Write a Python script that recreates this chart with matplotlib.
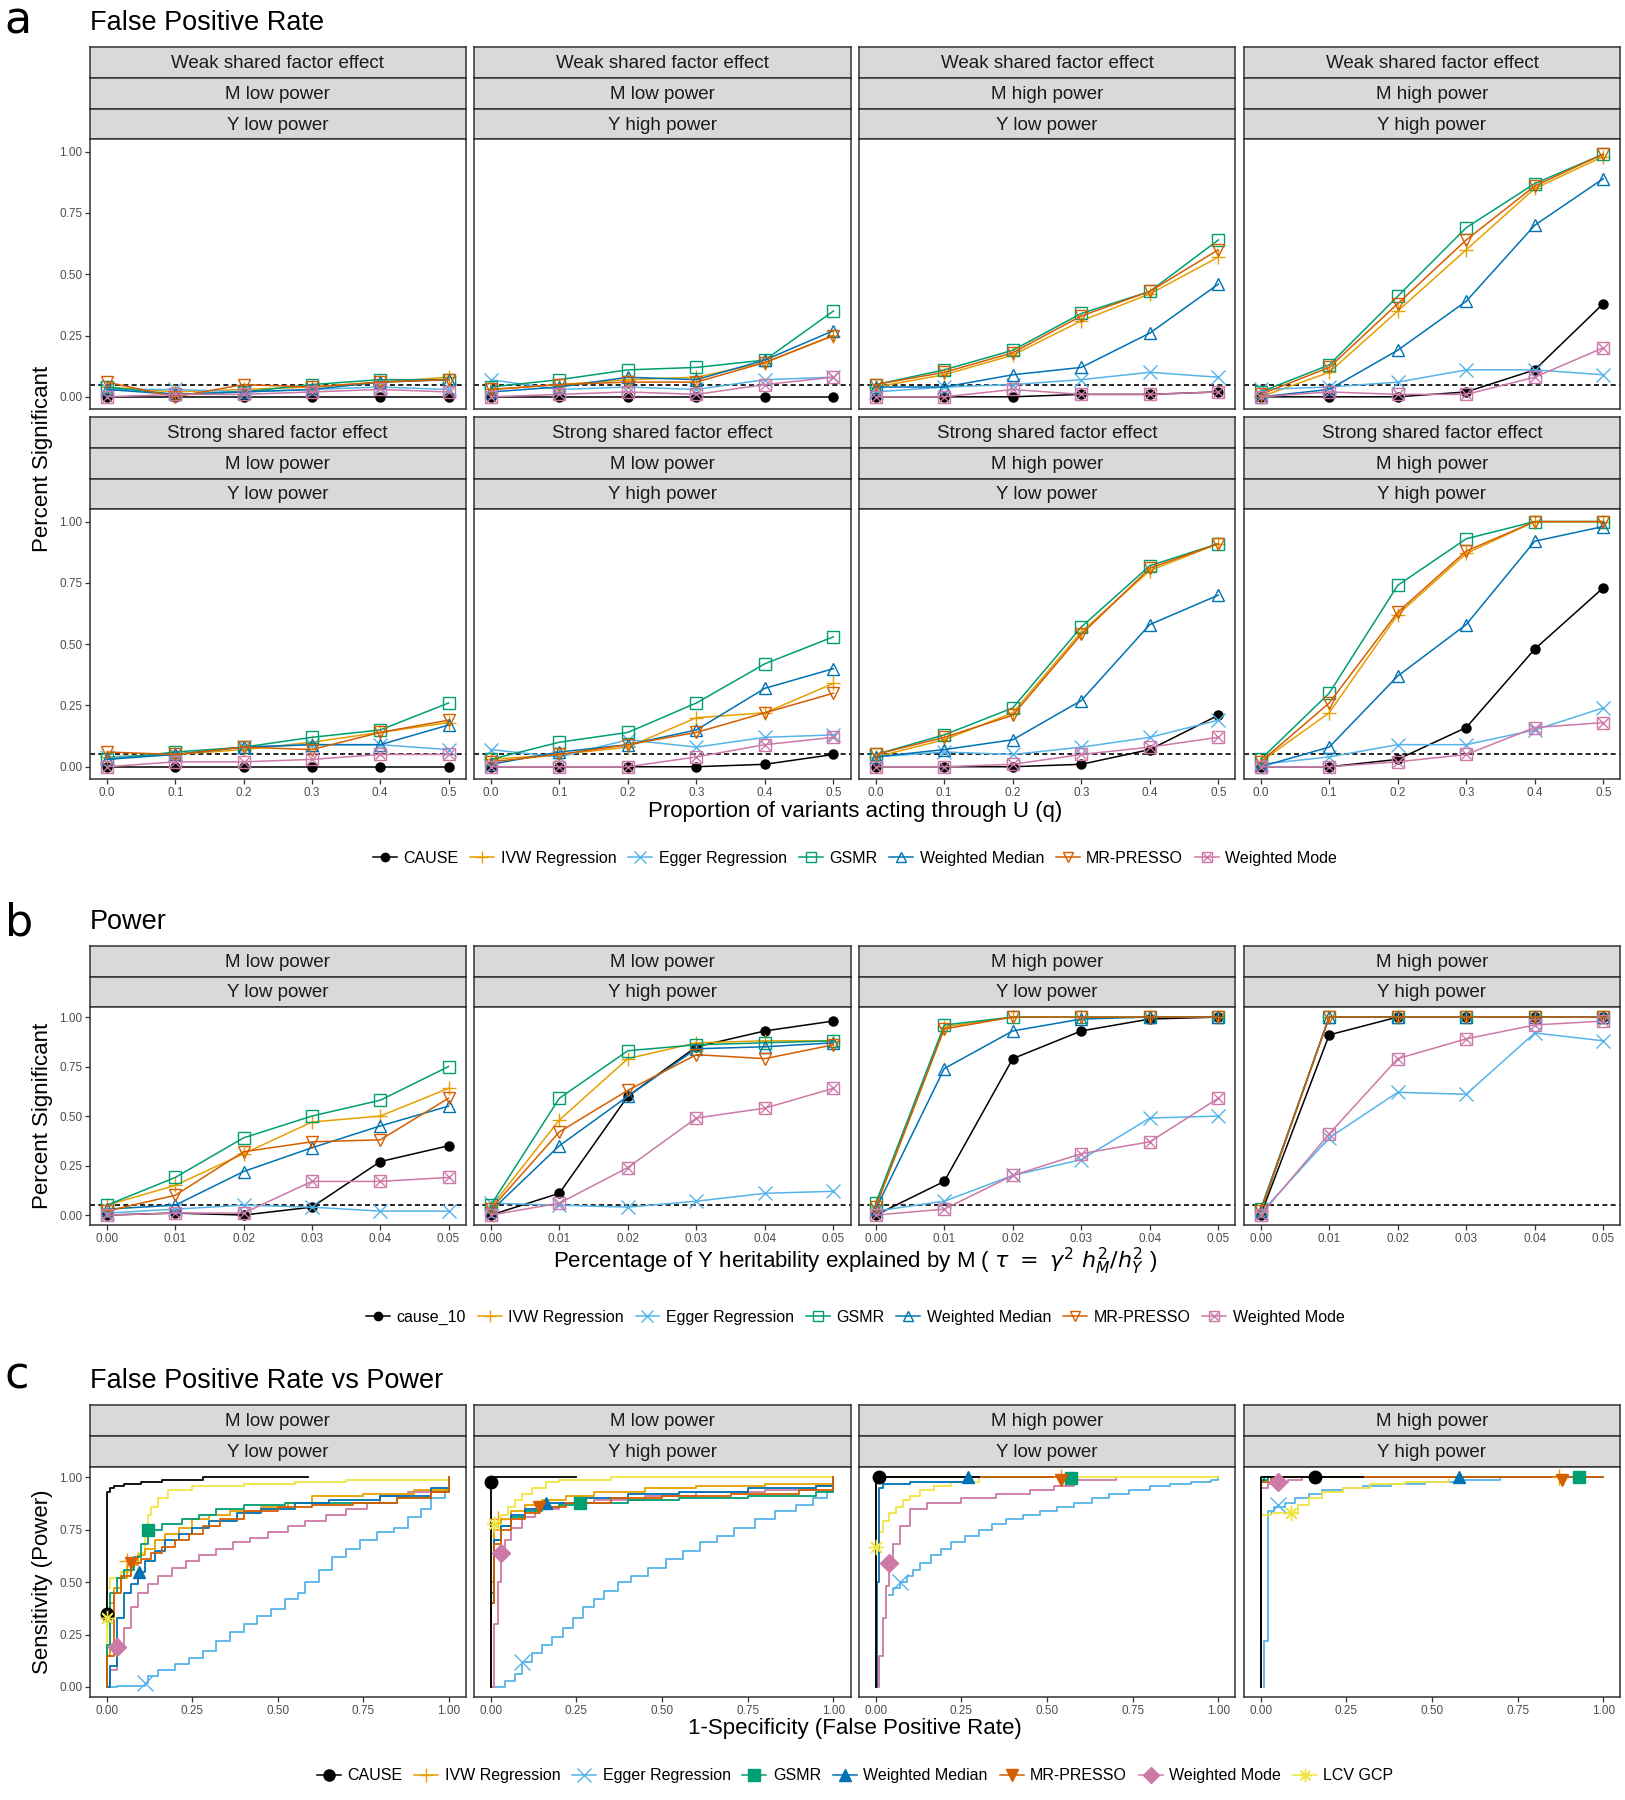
import matplotlib
matplotlib.use("Agg")
import matplotlib.pyplot as plt
from matplotlib.lines import Line2D
from matplotlib.legend_handler import HandlerTuple

plt.rcParams['font.family'] = ['Liberation Sans', 'DejaVu Sans']

# ---------------------------------------------------------------- data
METHODS = ['CAUSE', 'IVW Regression', 'Egger Regression', 'GSMR',
           'Weighted Median', 'MR-PRESSO', 'Weighted Mode']

COLORS = {'CAUSE': '#000000', 'IVW Regression': '#E69F00',
          'Egger Regression': '#56B4E9', 'GSMR': '#009E73',
          'Weighted Median': '#0072B2', 'MR-PRESSO': '#D55E00',
          'Weighted Mode': '#CC79A7', 'LCV GCP': '#F0E442'}

# (a) false positive rate, x = proportion of variants acting through U
q_vals = [0.0, 0.1, 0.2, 0.3, 0.4, 0.5]

fpr_weak_mlow_ylow = {
    'CAUSE':            [0.00, 0.00, 0.00, 0.00, 0.00, 0.00],
    'IVW Regression':   [0.04, 0.02, 0.03, 0.04, 0.06, 0.08],
    'Egger Regression': [0.03, 0.03, 0.02, 0.03, 0.04, 0.03],
    'GSMR':             [0.04, 0.01, 0.02, 0.05, 0.07, 0.07],
    'Weighted Median':  [0.03, 0.01, 0.02, 0.03, 0.06, 0.07],
    'MR-PRESSO':        [0.06, 0.00, 0.05, 0.04, 0.06, 0.07],
    'Weighted Mode':    [0.00, 0.01, 0.01, 0.02, 0.03, 0.02],
}
fpr_weak_mlow_yhigh = {
    'CAUSE':            [0.00, 0.00, 0.00, 0.00, 0.00, 0.00],
    'IVW Regression':   [0.03, 0.05, 0.07, 0.08, 0.14, 0.25],
    'Egger Regression': [0.07, 0.03, 0.04, 0.03, 0.07, 0.08],
    'GSMR':             [0.04, 0.07, 0.11, 0.12, 0.15, 0.35],
    'Weighted Median':  [0.02, 0.04, 0.08, 0.07, 0.15, 0.27],
    'MR-PRESSO':        [0.03, 0.05, 0.06, 0.06, 0.14, 0.25],
    'Weighted Mode':    [0.00, 0.01, 0.02, 0.01, 0.05, 0.08],
}
fpr_weak_mhigh_ylow = {
    'CAUSE':            [0.00, 0.00, 0.00, 0.01, 0.01, 0.02],
    'IVW Regression':   [0.04, 0.09, 0.17, 0.31, 0.42, 0.57],
    'Egger Regression': [0.02, 0.04, 0.05, 0.07, 0.10, 0.08],
    'GSMR':             [0.05, 0.11, 0.19, 0.34, 0.43, 0.64],
    'Weighted Median':  [0.04, 0.04, 0.09, 0.12, 0.26, 0.46],
    'MR-PRESSO':        [0.05, 0.10, 0.18, 0.33, 0.43, 0.60],
    'Weighted Mode':    [0.00, 0.00, 0.03, 0.01, 0.01, 0.02],
}
fpr_weak_mhigh_yhigh = {
    'CAUSE':            [0.00, 0.00, 0.00, 0.02, 0.11, 0.38],
    'IVW Regression':   [0.00, 0.10, 0.35, 0.60, 0.85, 0.98],
    'Egger Regression': [0.03, 0.04, 0.06, 0.11, 0.11, 0.09],
    'GSMR':             [0.02, 0.13, 0.41, 0.69, 0.87, 0.99],
    'Weighted Median':  [0.00, 0.03, 0.19, 0.39, 0.70, 0.89],
    'MR-PRESSO':        [0.01, 0.12, 0.38, 0.64, 0.86, 0.99],
    'Weighted Mode':    [0.00, 0.02, 0.01, 0.01, 0.08, 0.20],
}
fpr_strong_mlow_ylow = {
    'CAUSE':            [0.00, 0.00, 0.00, 0.00, 0.00, 0.00],
    'IVW Regression':   [0.04, 0.05, 0.07, 0.10, 0.14, 0.18],
    'Egger Regression': [0.04, 0.05, 0.08, 0.09, 0.09, 0.07],
    'GSMR':             [0.03, 0.06, 0.08, 0.12, 0.15, 0.26],
    'Weighted Median':  [0.03, 0.05, 0.08, 0.09, 0.09, 0.17],
    'MR-PRESSO':        [0.06, 0.05, 0.08, 0.07, 0.14, 0.19],
    'Weighted Mode':    [0.00, 0.02, 0.02, 0.03, 0.05, 0.05],
}
fpr_strong_mlow_yhigh = {
    'CAUSE':            [0.00, 0.00, 0.00, 0.00, 0.01, 0.05],
    'IVW Regression':   [0.03, 0.05, 0.08, 0.20, 0.22, 0.34],
    'Egger Regression': [0.07, 0.04, 0.11, 0.08, 0.12, 0.13],
    'GSMR':             [0.03, 0.10, 0.14, 0.26, 0.42, 0.53],
    'Weighted Median':  [0.01, 0.06, 0.09, 0.15, 0.32, 0.40],
    'MR-PRESSO':        [0.02, 0.05, 0.09, 0.14, 0.22, 0.30],
    'Weighted Mode':    [0.00, 0.00, 0.00, 0.04, 0.09, 0.12],
}
fpr_strong_mhigh_ylow = {
    'CAUSE':            [0.00, 0.00, 0.00, 0.01, 0.07, 0.21],
    'IVW Regression':   [0.04, 0.11, 0.22, 0.55, 0.80, 0.91],
    'Egger Regression': [0.04, 0.06, 0.05, 0.08, 0.12, 0.19],
    'GSMR':             [0.05, 0.13, 0.24, 0.57, 0.82, 0.91],
    'Weighted Median':  [0.04, 0.07, 0.11, 0.27, 0.58, 0.70],
    'MR-PRESSO':        [0.05, 0.12, 0.21, 0.54, 0.81, 0.91],
    'Weighted Mode':    [0.00, 0.00, 0.01, 0.05, 0.08, 0.12],
}
fpr_strong_mhigh_yhigh = {
    'CAUSE':            [0.00, 0.00, 0.03, 0.16, 0.48, 0.73],
    'IVW Regression':   [0.02, 0.22, 0.62, 0.87, 1.00, 1.00],
    'Egger Regression': [0.01, 0.04, 0.09, 0.09, 0.15, 0.24],
    'GSMR':             [0.03, 0.30, 0.74, 0.93, 1.00, 1.00],
    'Weighted Median':  [0.00, 0.08, 0.37, 0.58, 0.92, 0.98],
    'MR-PRESSO':        [0.02, 0.26, 0.63, 0.88, 1.00, 1.00],
    'Weighted Mode':    [0.00, 0.00, 0.02, 0.05, 0.16, 0.18],
}

# (b) power, x = tau
tau_vals = [0.00, 0.01, 0.02, 0.03, 0.04, 0.05]

pow_mlow_ylow = {
    'CAUSE':            [0.00, 0.01, 0.00, 0.04, 0.27, 0.35],
    'IVW Regression':   [0.05, 0.15, 0.31, 0.47, 0.50, 0.64],
    'Egger Regression': [0.01, 0.03, 0.05, 0.04, 0.02, 0.02],
    'GSMR':             [0.05, 0.19, 0.39, 0.50, 0.58, 0.75],
    'Weighted Median':  [0.03, 0.05, 0.22, 0.34, 0.45, 0.55],
    'MR-PRESSO':        [0.02, 0.10, 0.32, 0.37, 0.38, 0.59],
    'Weighted Mode':    [0.00, 0.01, 0.01, 0.17, 0.17, 0.19],
}
pow_mlow_yhigh = {
    'CAUSE':            [0.00, 0.11, 0.60, 0.85, 0.93, 0.98],
    'IVW Regression':   [0.04, 0.48, 0.79, 0.87, 0.88, 0.88],
    'Egger Regression': [0.06, 0.05, 0.04, 0.07, 0.11, 0.12],
    'GSMR':             [0.05, 0.59, 0.83, 0.86, 0.87, 0.88],
    'Weighted Median':  [0.02, 0.35, 0.60, 0.84, 0.85, 0.87],
    'MR-PRESSO':        [0.03, 0.42, 0.63, 0.81, 0.79, 0.86],
    'Weighted Mode':    [0.00, 0.06, 0.24, 0.49, 0.54, 0.64],
}
pow_mhigh_ylow = {
    'CAUSE':            [0.00, 0.17, 0.79, 0.93, 0.99, 1.00],
    'IVW Regression':   [0.05, 0.95, 1.00, 1.00, 1.00, 1.00],
    'Egger Regression': [0.02, 0.07, 0.20, 0.28, 0.49, 0.50],
    'GSMR':             [0.06, 0.96, 1.00, 1.00, 1.00, 1.00],
    'Weighted Median':  [0.03, 0.74, 0.93, 0.99, 1.00, 1.00],
    'MR-PRESSO':        [0.04, 0.94, 1.00, 1.00, 1.00, 1.00],
    'Weighted Mode':    [0.00, 0.03, 0.20, 0.31, 0.37, 0.59],
}
pow_mhigh_yhigh = {
    'CAUSE':            [0.00, 0.91, 1.00, 1.00, 1.00, 1.00],
    'IVW Regression':   [0.02, 1.00, 1.00, 1.00, 1.00, 1.00],
    'Egger Regression': [0.01, 0.39, 0.62, 0.61, 0.92, 0.88],
    'GSMR':             [0.03, 1.00, 1.00, 1.00, 1.00, 1.00],
    'Weighted Median':  [0.02, 1.00, 1.00, 1.00, 1.00, 1.00],
    'MR-PRESSO':        [0.02, 1.00, 1.00, 1.00, 1.00, 1.00],
    'Weighted Mode':    [0.00, 0.41, 0.79, 0.89, 0.96, 0.98],
}

# (c) ROC curves: (false positive rate, sensitivity) vertices of each step curve
roc_mlow_ylow = {
    'Egger Regression': ([0, 0.03, 0.11, 0.12, 0.15, 0.20, 0.24, 0.28, 0.32, 0.36, 0.40, 0.44, 0.48, 0.52,
                          0.56, 0.58, 0.62, 0.66, 0.70, 0.74, 0.79, 0.84, 0.88, 0.92, 0.95, 0.99, 1.00],
                         [0.0, 0.005, 0.02, 0.05, 0.08, 0.11, 0.14, 0.17, 0.22, 0.26, 0.30, 0.34, 0.37, 0.42,
                          0.45, 0.50, 0.56, 0.62, 0.66, 0.70, 0.74, 0.76, 0.81, 0.85, 0.90, 0.94, 1.00]),
    'Weighted Mode': ([0, 0.01, 0.03, 0.05, 0.07, 0.09, 0.12, 0.15, 0.19, 0.23, 0.27, 0.32, 0.37, 0.42, 0.47,
                       0.53, 0.58, 0.64, 0.70, 0.76, 0.80, 0.88, 1.00],
                      [0.0, 0.08, 0.19, 0.28, 0.38, 0.45, 0.49, 0.53, 0.57, 0.60, 0.63, 0.66, 0.69, 0.71, 0.74,
                       0.77, 0.79, 0.82, 0.85, 0.88, 0.91, 0.93, 1.00]),
    'LCV GCP': ([0, 0, 0.01, 0.04, 0.07, 0.09, 0.11, 0.12, 0.13, 0.15, 0.18, 0.25, 0.40, 0.55, 0.70, 1.00],
                [0.0, 0.47, 0.52, 0.55, 0.60, 0.64, 0.76, 0.82, 0.86, 0.90, 0.94, 0.96, 0.97, 0.98, 0.99, 1.00]),
    'IVW Regression': ([0, 0, 0.01, 0.02, 0.04, 0.06, 0.09, 0.11, 0.14, 0.17, 0.21, 0.25, 0.30, 0.36, 0.45,
                        0.53, 0.60, 0.75, 0.90, 1.00],
                       [0.0, 0.15, 0.40, 0.47, 0.52, 0.58, 0.63, 0.66, 0.70, 0.73, 0.76, 0.80, 0.82, 0.84, 0.86,
                        0.88, 0.91, 0.92, 0.94, 1.00]),
    'GSMR': ([0, 0, 0.01, 0.03, 0.05, 0.08, 0.10, 0.12, 0.16, 0.22, 0.27, 0.32, 0.40, 0.52, 0.65, 0.85, 0.95, 1.00],
             [0.0, 0.20, 0.45, 0.52, 0.56, 0.62, 0.68, 0.75, 0.78, 0.80, 0.82, 0.85, 0.87, 0.88, 0.88, 0.90, 0.93, 1.00]),
    'Weighted Median': ([0, 0.01, 0.03, 0.05, 0.07, 0.09, 0.11, 0.14, 0.17, 0.21, 0.25, 0.30, 0.38, 0.45, 0.55,
                         0.65, 0.80, 0.95, 1.00],
                        [0.0, 0.10, 0.33, 0.45, 0.49, 0.55, 0.60, 0.65, 0.70, 0.73, 0.76, 0.79, 0.83, 0.85, 0.88,
                         0.89, 0.91, 0.95, 1.00]),
    'MR-PRESSO': ([0, 0, 0.02, 0.04, 0.07, 0.10, 0.13, 0.16, 0.20, 0.24, 0.28, 0.33, 0.40, 0.50, 0.60, 0.72,
                   0.85, 0.95, 1.00],
                  [0.0, 0.15, 0.45, 0.53, 0.59, 0.61, 0.64, 0.67, 0.70, 0.73, 0.77, 0.80, 0.84, 0.86, 0.87, 0.88,
                   0.90, 0.93, 1.00]),
    'CAUSE': ([0, 0, 0.01, 0.02, 0.05, 0.10, 0.16, 0.28, 0.59],
              [0.35, 0.93, 0.95, 0.96, 0.97, 0.98, 0.99, 1.00, 1.00]),
}
roc_mlow_yhigh = {
    'Egger Regression': ([0, 0.04, 0.07, 0.09, 0.12, 0.15, 0.18, 0.21, 0.24, 0.27, 0.30, 0.33, 0.37, 0.41,
                          0.46, 0.51, 0.56, 0.61, 0.66, 0.71, 0.77, 0.83, 0.89, 0.94, 0.98, 1.00],
                         [0.0, 0.03, 0.06, 0.12, 0.16, 0.20, 0.24, 0.28, 0.33, 0.38, 0.42, 0.46, 0.50, 0.53,
                          0.57, 0.61, 0.65, 0.69, 0.72, 0.76, 0.80, 0.84, 0.87, 0.90, 0.93, 1.00]),
    'Weighted Mode': ([0, 0.01, 0.02, 0.03, 0.04, 0.06, 0.09, 0.13, 0.20, 0.30, 0.45, 0.60, 0.80, 0.95, 1.00],
                      [0.0, 0.30, 0.50, 0.64, 0.70, 0.76, 0.81, 0.85, 0.88, 0.89, 0.91, 0.93, 0.94, 0.96, 1.00]),
    'LCV GCP': ([0, 0, 0.01, 0.03, 0.05, 0.07, 0.09, 0.12, 0.16, 0.20, 0.35, 1.00],
                [0.0, 0.72, 0.78, 0.82, 0.86, 0.89, 0.92, 0.95, 0.98, 0.99, 1.00, 1.00]),
    'IVW Regression': ([0, 0, 0.01, 0.03, 0.06, 0.10, 0.15, 0.22, 0.30, 0.45, 0.60, 0.80, 1.00],
                       [0.0, 0.50, 0.75, 0.80, 0.84, 0.87, 0.89, 0.91, 0.93, 0.95, 0.96, 0.97, 1.00]),
    'GSMR': ([0, 0, 0.01, 0.03, 0.06, 0.10, 0.15, 0.20, 0.26, 0.40, 0.55, 0.75, 0.95, 1.00],
             [0.0, 0.45, 0.70, 0.77, 0.81, 0.84, 0.86, 0.87, 0.88, 0.89, 0.90, 0.91, 0.93, 1.00]),
    'Weighted Median': ([0, 0, 0.01, 0.03, 0.06, 0.10, 0.16, 0.25, 0.40, 0.55, 0.75, 0.95, 1.00],
                        [0.0, 0.40, 0.70, 0.77, 0.82, 0.85, 0.88, 0.90, 0.92, 0.93, 0.95, 0.96, 1.00]),
    'MR-PRESSO': ([0, 0, 0.01, 0.03, 0.06, 0.10, 0.14, 0.22, 0.35, 0.50, 0.70, 0.90, 1.00],
                  [0.0, 0.40, 0.68, 0.75, 0.80, 0.83, 0.86, 0.88, 0.90, 0.91, 0.92, 0.94, 1.00]),
    'CAUSE': ([0, 0, 0.01, 0.25], [0.0, 0.98, 1.00, 1.00]),
}
roc_mhigh_ylow = {
    'Egger Regression': ([0.04, 0.05, 0.07, 0.09, 0.11, 0.13, 0.16, 0.19, 0.22, 0.26, 0.30, 0.34, 0.38, 0.43,
                          0.48, 0.53, 0.58, 0.63, 0.68, 0.74, 0.80, 0.86, 0.92, 0.98, 1.00],
                         [0.44, 0.47, 0.50, 0.53, 0.56, 0.59, 0.63, 0.66, 0.69, 0.72, 0.75, 0.78, 0.80, 0.82,
                          0.84, 0.86, 0.88, 0.90, 0.92, 0.94, 0.96, 0.97, 0.98, 0.99, 1.00]),
    'Weighted Mode': ([0, 0.01, 0.02, 0.03, 0.04, 0.05, 0.07, 0.10, 0.15, 0.25, 0.35, 0.45, 0.52, 0.58, 0.70],
                      [0.0, 0.15, 0.33, 0.48, 0.59, 0.68, 0.77, 0.85, 0.88, 0.90, 0.92, 0.94, 0.96, 0.99, 1.00]),
    'LCV GCP': ([0, 0, 0.01, 0.02, 0.04, 0.06, 0.08, 0.10, 0.13, 0.17, 0.22, 0.30, 1.00],
                [0.0, 0.67, 0.74, 0.79, 0.83, 0.86, 0.89, 0.91, 0.94, 0.96, 0.98, 1.00, 1.00]),
    'IVW Regression': ([0, 0, 0.01, 0.54], [0.0, 0.98, 1.00, 1.00]),
    'GSMR': ([0, 0, 0.01, 0.57], [0.0, 0.99, 1.00, 1.00]),
    'Weighted Median': ([0, 0.005, 0.01, 0.02, 0.10, 0.27], [0.0, 0.50, 0.95, 0.97, 0.98, 1.00]),
    'MR-PRESSO': ([0, 0, 0.01, 0.54], [0.0, 0.98, 1.00, 1.00]),
    'CAUSE': ([0, 0, 0.01, 0.30], [0.0, 0.98, 1.00, 1.00]),
}
roc_mhigh_yhigh = {
    'Egger Regression': ([0.01, 0.01, 0.02, 0.04, 0.07, 0.10, 0.14, 0.18, 0.24, 0.30, 0.38, 0.48, 0.58, 0.70, 1.00],
                         [0.0, 0.22, 0.84, 0.86, 0.88, 0.90, 0.92, 0.94, 0.95, 0.96, 0.97, 0.98, 0.99, 1.00, 1.00]),
    'Weighted Mode': ([0, 0, 0.02, 0.05, 0.08, 0.12, 1.00], [0.0, 0.95, 0.97, 0.98, 0.99, 1.00, 1.00]),
    'LCV GCP': ([0, 0, 0.03, 0.09, 0.11, 0.14, 0.18, 0.24, 0.32, 0.42, 0.55, 1.00],
                [0.0, 0.82, 0.83, 0.83, 0.87, 0.90, 0.93, 0.95, 0.97, 0.98, 1.00, 1.00]),
    'IVW Regression': ([0, 0, 0.02, 0.87, 1.00], [0.0, 0.99, 1.00, 1.00, 1.00]),
    'GSMR': ([0, 0, 0.02, 0.93, 1.00], [0.0, 0.99, 1.00, 1.00, 1.00]),
    'Weighted Median': ([0, 0, 0.01, 0.59, 1.00], [0.0, 0.98, 1.00, 1.00, 1.00]),
    'MR-PRESSO': ([0, 0, 0.03, 0.88, 1.00], [0.0, 0.98, 1.00, 1.00, 1.00]),
    'CAUSE': ([0, 0, 0.16, 0.30], [0.0, 1.00, 1.00, 1.00]),
}

# operating points at the nominal threshold
pts_mlow_ylow = {'CAUSE': (0.00, 0.35), 'IVW Regression': (0.06, 0.60), 'Egger Regression': (0.11, 0.02),
                 'GSMR': (0.12, 0.75), 'Weighted Median': (0.095, 0.55), 'MR-PRESSO': (0.07, 0.59),
                 'Weighted Mode': (0.03, 0.19), 'LCV GCP': (0.00, 0.33)}
pts_mlow_yhigh = {'CAUSE': (0.00, 0.98), 'IVW Regression': (0.02, 0.80), 'Egger Regression': (0.09, 0.12),
                  'GSMR': (0.26, 0.88), 'Weighted Median': (0.16, 0.88), 'MR-PRESSO': (0.14, 0.86),
                  'Weighted Mode': (0.03, 0.64), 'LCV GCP': (0.01, 0.78)}
pts_mhigh_ylow = {'CAUSE': (0.01, 1.00), 'IVW Regression': (0.54, 1.00), 'Egger Regression': (0.07, 0.50),
                  'GSMR': (0.57, 0.995), 'Weighted Median': (0.27, 1.00), 'MR-PRESSO': (0.54, 0.99),
                  'Weighted Mode': (0.04, 0.59), 'LCV GCP': (0.00, 0.67)}
pts_mhigh_yhigh = {'CAUSE': (0.16, 1.00), 'IVW Regression': (0.87, 1.00), 'Egger Regression': (0.05, 0.87),
                   'GSMR': (0.93, 1.00), 'Weighted Median': (0.58, 1.00), 'MR-PRESSO': (0.88, 0.99),
                   'Weighted Mode': (0.05, 0.98), 'LCV GCP': (0.09, 0.83)}

# ---------------------------------------------------------------- styles
OPEN_MARKERS = {'CAUSE': 'o', 'IVW Regression': '+', 'Egger Regression': 'x', 'GSMR': 's',
                'Weighted Median': '^', 'MR-PRESSO': 'v', 'Weighted Mode': 's'}
FILLED_MARKERS = {'CAUSE': 'o', 'IVW Regression': '+', 'Egger Regression': 'x', 'GSMR': 's',
                  'Weighted Median': '^', 'MR-PRESSO': 'v', 'Weighted Mode': 'D', 'LCV GCP': (8, 2, 0)}

GREY20 = '#333333'
GREY30 = '#4D4D4D'

# layout measured on the reference at 1410 x 1562
W, H = 1410.0, 1562.0
COLS = [(78, 404), (411, 738), (745, 1072), (1079, 1406)]


def rect(x0, y0, x1, y1):
    return [x0 / W, 1 - y1 / H, (x1 - x0) / W, (y1 - y0) / H]


def fx(x):
    return x / W


def fy(y):
    return 1 - y / H


fig = plt.figure(figsize=(16.25, 18), dpi=100)


def add_strips(x0, x1, y_top, labels, h):
    for i, lab in enumerate(labels):
        sax = fig.add_axes(rect(x0, y_top + i * h, x1, y_top + (i + 1) * h))
        sax.set_facecolor('#D9D9D9')
        sax.set_xticks([])
        sax.set_yticks([])
        for s in sax.spines.values():
            s.set_color(GREY20)
            s.set_linewidth(1.1)
        sax.text(0.5, 0.47, lab, ha='center', va='center', fontsize=13.5,
                 color='#1A1A1A', transform=sax.transAxes)


def make_panel(x0, x1, y0, y1, xlim, xticks, xticklabels, show_x, show_y):
    ax = fig.add_axes(rect(x0, y0, x1, y1))
    ax.set_xlim(xlim)
    ax.set_ylim(-0.05, 1.05)
    ax.set_xticks(xticks)
    ax.set_yticks([0, 0.25, 0.5, 0.75, 1.0])
    ax.set_xticklabels(xticklabels if show_x else [])
    ax.set_yticklabels(['0.00', '0.25', '0.50', '0.75', '1.00'] if show_y else [])
    ax.tick_params(colors=GREY20, labelcolor=GREY30, labelsize=8.5, length=3.5, width=0.9, pad=2)
    if not show_x:
        ax.tick_params(axis='x', length=0)
    if not show_y:
        ax.tick_params(axis='y', length=0)
    for s in ax.spines.values():
        s.set_color(GREY20)
        s.set_linewidth(1.1)
    return ax


def draw_lines(ax, xs, data):
    for m in METHODS:
        c = COLORS[m]
        mk = OPEN_MARKERS[m]
        if m == 'CAUSE':
            ax.plot(xs, data[m], color=c, lw=1.1, marker='o', ms=6.5, mfc=c, mec=c)
        elif m in ('IVW Regression', 'Egger Regression'):
            ax.plot(xs, data[m], color=c, lw=1.1, marker=mk, ms=10, mew=1.0)
        else:
            ax.plot(xs, data[m], color=c, lw=1.1, marker=mk, ms=9, mfc='none', mec=c, mew=1.0)
            if m == 'Weighted Mode':
                ax.plot(xs, data[m], ls='none', marker='x', ms=6.5, mec=c, mew=1.0)
    ax.axhline(0.05, color='black', ls=(0, (3, 2)), lw=1.2, zorder=1)


def legend_handles(filled):
    handles, labels = [], []
    for m in METHODS + (['LCV GCP'] if filled else []):
        c = COLORS[m]
        if filled:
            mk = FILLED_MARKERS[m]
            ms = 8 if m not in ('IVW Regression', 'Egger Regression', 'LCV GCP') else 9.5
            h = Line2D([], [], color=c, lw=1.1, marker=mk, ms=ms, mfc=c, mec=c, mew=1.0)
        elif m == 'CAUSE':
            h = Line2D([], [], color=c, lw=1.1, marker='o', ms=6, mfc=c, mec=c)
        elif m in ('IVW Regression', 'Egger Regression'):
            h = Line2D([], [], color=c, lw=1.1, marker=OPEN_MARKERS[m], ms=9, mew=1.0)
        else:
            h = Line2D([], [], color=c, lw=1.1, marker=OPEN_MARKERS[m], ms=7.5, mfc='none', mec=c, mew=1.0)
            if m == 'Weighted Mode':
                h = (h, Line2D([], [], ls='none', marker='x', ms=5.5, mec=c, mew=1.0))
        handles.append(h)
        labels.append(m)
    return handles, labels


def add_legend(y, filled, first_label):
    handles, labels = legend_handles(filled)
    labels[0] = first_label
    fig.legend(handles, labels, loc='center', bbox_to_anchor=(fx(742), fy(y)), ncol=len(labels),
               frameon=False, fontsize=11.5, handlelength=1.5, handletextpad=0.4, columnspacing=0.75,
               handler_map={tuple: HandlerTuple(ndivide=1)})


# ---------------------------------------------------------------- (a)
fig.text(fx(4), fy(18), 'a', fontsize=32, va='center', ha='left', family='DejaVu Sans')
fig.text(fx(78), fy(20), 'False Positive Rate', fontsize=19.5, va='center', ha='left')

a_rows = [
    ('Weak shared factor effect', 41, [fpr_weak_mlow_ylow, fpr_weak_mlow_yhigh,
                                       fpr_weak_mhigh_ylow, fpr_weak_mhigh_yhigh]),
    ('Strong shared factor effect', 362, [fpr_strong_mlow_ylow, fpr_strong_mlow_yhigh,
                                          fpr_strong_mhigh_ylow, fpr_strong_mhigh_yhigh]),
]
m_labels = ['M low power', 'M low power', 'M high power', 'M high power']
y_labels = ['Y low power', 'Y high power', 'Y low power', 'Y high power']

for r, (effect, top, panels) in enumerate(a_rows):
    for c, (x0, x1) in enumerate(COLS):
        add_strips(x0, x1, top, [effect, m_labels[c], y_labels[c]], 26.67)
        ax = make_panel(x0, x1, top + 80, top + 314, (-0.025, 0.525), q_vals,
                        ['0.0', '0.1', '0.2', '0.3', '0.4', '0.5'], r == 1, c == 0)
        draw_lines(ax, q_vals, panels[c])

fig.text(fx(742), fy(704), 'Proportion of variants acting through U (q)', fontsize=16,
         ha='center', va='center')
fig.text(fx(37), fy(398), 'Percent Significant', fontsize=16, ha='center', va='center', rotation=90)
add_legend(745, False, 'CAUSE')

# ---------------------------------------------------------------- (b)
fig.text(fx(4), fy(801), 'b', fontsize=32, va='center', ha='left', family='DejaVu Sans')
fig.text(fx(78), fy(800), 'Power', fontsize=19.5, va='center', ha='left')

b_panels = [pow_mlow_ylow, pow_mlow_yhigh, pow_mhigh_ylow, pow_mhigh_yhigh]
for c, (x0, x1) in enumerate(COLS):
    add_strips(x0, x1, 821, [m_labels[c], y_labels[c]], 26.5)
    ax = make_panel(x0, x1, 874, 1063, (-0.0025, 0.0525), tau_vals,
                    ['0.00', '0.01', '0.02', '0.03', '0.04', '0.05'], True, c == 0)
    draw_lines(ax, tau_vals, b_panels[c])

fig.text(fx(742), fy(1095),
         r'Percentage of Y heritability explained by M ( $\tau\ =\ \gamma^2\ h^2_M/h^2_Y$ )',
         fontsize=16, ha='center', va='center')
fig.text(fx(37), fy(968), 'Percent Significant', fontsize=16, ha='center', va='center', rotation=90)
add_legend(1143, False, 'cause_10')

# ---------------------------------------------------------------- (c)
fig.text(fx(4), fy(1194), 'c', fontsize=32, va='center', ha='left', family='DejaVu Sans')
fig.text(fx(78), fy(1198), 'False Positive Rate vs Power', fontsize=19.5, va='center', ha='left')

c_curves = [roc_mlow_ylow, roc_mlow_yhigh, roc_mhigh_ylow, roc_mhigh_yhigh]
c_points = [pts_mlow_ylow, pts_mlow_yhigh, pts_mhigh_ylow, pts_mhigh_yhigh]
for c, (x0, x1) in enumerate(COLS):
    add_strips(x0, x1, 1219, [m_labels[c], y_labels[c]], 27)
    ax = make_panel(x0, x1, 1273, 1473, (-0.05, 1.05), [0, 0.25, 0.5, 0.75, 1.0],
                    ['0.00', '0.25', '0.50', '0.75', '1.00'], True, c == 0)
    for m, (xs, ys) in c_curves[c].items():
        ax.plot(xs, ys, color=COLORS[m], lw=1.3, drawstyle='steps-post')
    for m, (px, py) in c_points[c].items():
        mk = FILLED_MARKERS[m]
        ms = 11 if m in ('IVW Regression', 'Egger Regression', 'LCV GCP') else 9
        ax.plot([px], [py], ls='none', marker=mk, ms=ms, color=COLORS[m], mfc=COLORS[m],
                mec=COLORS[m], mew=1.0, zorder=5)

fig.text(fx(742), fy(1500), '1-Specificity (False Positive Rate)', fontsize=16, ha='center', va='center')
fig.text(fx(37), fy(1373), 'Sensitivity (Power)', fontsize=16, ha='center', va='center', rotation=90)
add_legend(1541, True, 'CAUSE')

fig.savefig('out.png', dpi=100)
